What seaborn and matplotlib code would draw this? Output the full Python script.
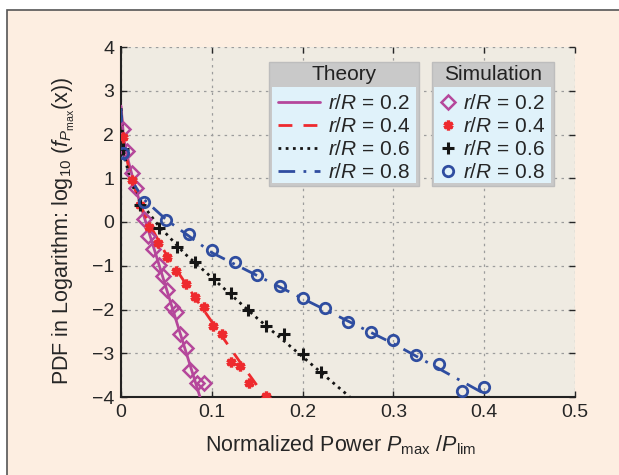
import numpy as np
import pandas as pd
import seaborn as sns
import matplotlib as mpl
from matplotlib import pyplot as plt
from matplotlib.patches import Rectangle

# Theory curves
th02_x = [0.0, 0.003, 0.008, 0.015, 0.025, 0.04, 0.06, 0.087]
th02_y = [2.65, 1.9, 1.4, 0.85, 0.15, -0.85, -2.2, -4.0]
th04_x = [0.0, 0.003, 0.01, 0.02, 0.03, 0.05, 0.08, 0.10, 0.13, 0.159]
th04_y = [2.6, 1.75, 1.1, 0.45, 0.0, -0.75, -1.68, -2.28, -3.17, -4.0]
th06_x = [0.0, 0.003, 0.01, 0.02, 0.04, 0.07, 0.10, 0.15, 0.20, 0.252]
th06_y = [2.6, 1.6, 0.95, 0.5, -0.05, -0.72, -1.27, -2.2, -3.08, -4.0]
th08_x = [0.0, 0.003, 0.01, 0.025, 0.05, 0.10, 0.20, 0.30, 0.405]
th08_y = [2.6, 1.5, 1.0, 0.52, 0.05, -0.7, -1.75, -2.78, -3.98]

# Simulation points
sim02_x = [0.002, 0.007, 0.012, 0.017, 0.025, 0.030, 0.035, 0.042, 0.046, 0.051,
           0.056, 0.061, 0.065, 0.072, 0.076, 0.084, 0.091]
sim02_y = [2.12, 1.63, 1.13, 0.77, 0.07, -0.33, -0.62, -0.98, -1.24, -1.55,
           -1.94, -2.06, -2.57, -2.89, -3.38, -3.67, -3.67]
sim04_x = [0.002, 0.012, 0.021, 0.031, 0.041, 0.051, 0.061, 0.072, 0.082, 0.091,
           0.101, 0.111, 0.121, 0.131, 0.141, 0.160]
sim04_y = [1.95, 0.95, 0.38, -0.11, -0.47, -0.80, -1.11, -1.42, -1.72, -1.95,
           -2.38, -2.57, -3.21, -3.28, -3.67, -3.98]
sim06_x = [0.002, 0.021, 0.042, 0.062, 0.082, 0.102, 0.121, 0.140, 0.160, 0.180, 0.200, 0.220]
sim06_y = [1.68, 0.40, -0.13, -0.58, -0.91, -1.30, -1.62, -2.01, -2.38, -2.56, -3.02, -3.42]
sim08_x = [0.002, 0.025, 0.050, 0.075, 0.100, 0.125, 0.150, 0.175, 0.200, 0.225,
           0.250, 0.275, 0.300, 0.325, 0.350, 0.375, 0.400]
sim08_y = [1.57, 0.46, 0.04, -0.28, -0.64, -0.91, -1.21, -1.47, -1.73, -1.97,
           -2.28, -2.51, -2.70, -3.04, -3.25, -3.87, -3.76]

labels = ['$r/R$ = 0.2', '$r/R$ = 0.4', '$r/R$ = 0.6', '$r/R$ = 0.8']
colors = ['#B5479B', '#EE2A2E', '#151515', '#2F4DA0']

sns.set_style('ticks')
plt.rcParams['font.family'] = ['Liberation Sans', 'DejaVu Sans']
plt.rcParams['mathtext.fontset'] = 'custom'
plt.rcParams['mathtext.rm'] = 'Liberation Sans'
plt.rcParams['mathtext.it'] = 'Liberation Sans:italic'
plt.rcParams['axes.unicode_minus'] = True

fig = plt.figure(figsize=(6.19, 4.75), dpi=100, facecolor='white')
# Peach frame
fig.patches.append(Rectangle((6.5 / 619, -0.05), 1.2, 1.05 - 9.5 / 475, transform=fig.transFigure,
                             facecolor='#FDEEE1', edgecolor='#555555', linewidth=1.2, zorder=-10))
ax = fig.add_axes([121 / 619, 1 - 397 / 475, 454 / 619, 350 / 475])
ax.set_facecolor('#EFEBE2')

# Theory lines
styles = ['-', (0, (5, 4)), (0, (1, 1.6)), (0, (6, 3, 1, 3))]
theory = [(th02_x, th02_y), (th04_x, th04_y), (th06_x, th06_y), (th08_x, th08_y)]
th_handles = []
for (tx, ty), c, ls, lab in zip(theory, colors, styles, labels):
    sns.lineplot(x=tx, y=ty, ax=ax, color=c, linestyle=ls, linewidth=2, sort=False, zorder=3)
    th_handles.append(ax.lines[-1])

# Simulation markers
sims = [(sim02_x, sim02_y), (sim04_x, sim04_y), (sim06_x, sim06_y), (sim08_x, sim08_y)]
mk = [dict(marker='D', markersize=7, markerfacecolor='none', markeredgewidth=1.8),
      dict(marker=(6, 2, 0), markersize=7, markeredgewidth=2.4),
      dict(marker='+', markersize=8, markeredgewidth=2.2),
      dict(marker='o', markersize=7.5, markerfacecolor='none', markeredgewidth=2)]
sim_handles = []
for (sx, sy), c, m in zip(sims, colors, mk):
    sns.lineplot(x=sx, y=sy, ax=ax, color=c, markeredgecolor=c, linestyle='none', sort=False, zorder=4, **m)
    sim_handles.append(ax.lines[-1])

ax.set_xlim(0, 0.5)
ax.set_ylim(-4, 4)
ax.set_xticks([0, 0.1, 0.2, 0.3, 0.4, 0.5])
ax.set_xticklabels(['0', '0.1', '0.2', '0.3', '0.4', '0.5'])
ax.set_yticks(range(-4, 5))
ax.grid(True, color='#9C9C9C', linestyle=(0, (2, 3.5)), linewidth=0.9)
ax.tick_params(direction='in', length=4, labelsize=14, top=True, right=True, pad=5, width=1)
for t in ax.xaxis.get_major_ticks() + ax.yaxis.get_major_ticks():
    t.tick2line.set_color('#9C9C9C')
for s in ['top', 'right']:
    ax.spines[s].set_visible(False)
for s in ['left', 'bottom']:
    ax.spines[s].set_linewidth(1.5)
    ax.spines[s].set_color('#222222')

ax.set_xlabel('Normalized Power $P_{\\mathrm{max}}$ /$P_{\\mathrm{lim}}$', fontsize=15.5)
ax.set_ylabel('PDF in Logarithm: log$_{10}$ ($f_{P_{\\mathrm{max}}}$(x))', fontsize=15.5)
ax.xaxis.set_label_coords(0.485, -0.105)
ax.yaxis.set_label_coords(-0.097, 0.474)

# Legend boxes: gray title band and light-blue body
def legend_box(x0, x1, title):
    ax.add_patch(Rectangle((x0, 0.603), x1 - x0, 0.957 - 0.603, transform=ax.transAxes,
                           facecolor='#C9C9C9', edgecolor='#BDBDBD', lw=1, zorder=5))
    ax.add_patch(Rectangle((x0 + 0.006, 0.611), x1 - x0 - 0.012, 0.885 - 0.611, transform=ax.transAxes,
                           facecolor='#E0F2FA', edgecolor='none', zorder=5))
    ax.text((x0 + x1) / 2, 0.92, title, transform=ax.transAxes, ha='center', va='center',
            fontsize=15, color='#222222', zorder=6)

legend_box(0.326, 0.656, 'Theory')
legend_box(0.684, 0.953, 'Simulation')

leg1 = ax.legend(th_handles, labels, loc='upper left', bbox_to_anchor=(0.346, 0.866), frameon=False,
                 fontsize=15, handlelength=2.0, handletextpad=0.4, labelspacing=0.2,
                 borderaxespad=0, borderpad=0)
leg1.set_zorder(7)
ax.add_artist(leg1)
leg2 = ax.legend(sim_handles, labels, loc='upper left', bbox_to_anchor=(0.703, 0.866), frameon=False,
                 fontsize=15, handlelength=0.8, handletextpad=0.3, labelspacing=0.2,
                 borderaxespad=0, borderpad=0)
leg2.set_zorder(7)

fig.savefig('out.png', dpi=100, facecolor=fig.get_facecolor())
